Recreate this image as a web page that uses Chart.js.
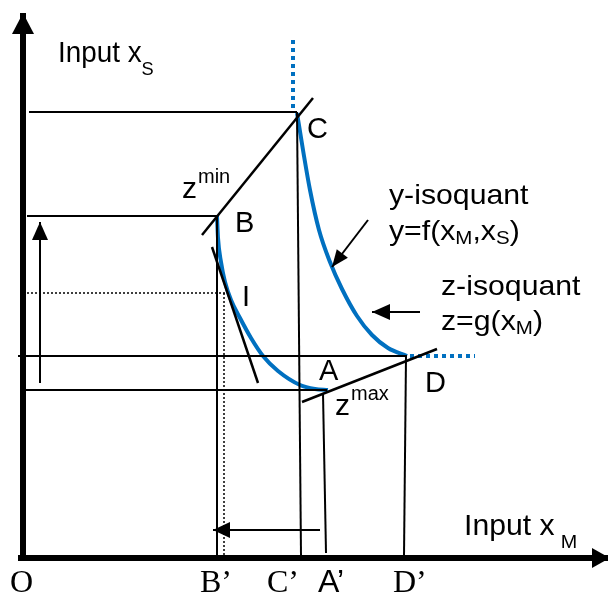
<!DOCTYPE html>
<html>
<head>
<meta charset="utf-8">
<script src="https://cdn.jsdelivr.net/npm/chart.js@4"></script>
<style>
  html, body { margin: 0; padding: 0; background: #fff; }
  canvas { display: block; }
</style>
</head>
<body>
<canvas id="myChart" width="608" height="594"></canvas>
<script>
// ==========================================
// Data (input xM along x, input xS along y)
// ==========================================

// upper blue isoquant, from C down to D
const upperXM = [274, 280, 287, 296, 307, 319, 334, 349, 365, 384];
const upperXS = [445, 408, 368, 328, 296, 269, 242, 223, 210, 202];

// lower blue isoquant, from B down to A
const lowerXM = [194, 195, 198, 202, 208, 217, 228, 240, 255, 277, 292, 305];
const lowerXS = [342, 320, 296, 276, 258, 240, 220, 202, 187, 173, 169, 168];

// dotted continuations of the upper isoquant
const dotUpXM = [270, 270];
const dotUpXS = [518, 450];
const dotRightXM = [387, 452];
const dotRightXS = [202, 202];

// z lines through the points
const zMinXM = [179, 290];
const zMinXS = [323, 460];
const zMaxXM = [279, 414];
const zMaxXS = [156, 209];
const tangentXM = [189, 235];
const tangentXS = [311, 175];

// named points B, C, A, D
const pointNames = ["B", "C", "A", "D"];
const pointXM = [194, 274, 304, 384];
const pointXS = [342, 446, 168, 202];

// guide lines: [xM1, xS1, xM2, xS2]
const guideLines = [
   [6, 446, 274, 446],     // C level
   [4, 342, 194, 342],     // B level
   [-5, 202, 384, 202],    // D level
   [2, 168, 304, 168],     // A level
   [194, 342, 194, 2],     // B'
   [274, 446, 278, 2],     // C'
   [300, 165, 303, 5],     // A'
   [383, 202, 381, 2]      // D'
];
const dottedLines = [
   [4, 265, 202, 265],
   [201, 265, 201, 2]
];

// arrows: [tail xM, tail xS, tip xM, tip xS]
const arrows = [
   [17, 175, 17, 336],
   [297, 28, 190, 28],
   [345, 338, 309, 291],
   [397, 246, 349, 246]
];

// axes
const axisY = [[0, 2], [0, 545]];
const axisX = [[-5, 0], [585, 0]];

// bottom tick labels and where they sit
const tickLabels = ["O", "B\u2019", "C\u2019", "A\u2019", "D\u2019"];
const tickXM = [-13, 177, 244, 295, 370];

// ==========================================
// Chart
// ==========================================
const blue = "#0070C0";
const sans = "'Liberation Sans', Arial, sans-serif";
const serif = "'Liberation Serif', 'Times New Roman', serif";

function toPoints(xs, ys) {
   return xs.map((x, i) => ({ x: x, y: ys[i] }));
}

function lineSet(points, color, width, dash, smooth) {
   let ds = {
      data: points,
      showLine: true,
      borderColor: color,
      borderWidth: width,
      borderDash: dash || [],
      borderCapStyle: "butt",
      pointRadius: 0,
      fill: false,
      clip: false
   };
   if (smooth) ds.cubicInterpolationMode = "monotone";
   return ds;
}

let datasets = [];
guideLines.forEach((g) => {
   datasets.push(lineSet([{ x: g[0], y: g[1] }, { x: g[2], y: g[3] }], "#000", 2));
});
dottedLines.forEach((g) => {
   datasets.push(lineSet([{ x: g[0], y: g[1] }, { x: g[2], y: g[3] }], "#000", 1.5, [2, 2]));
});
arrows.forEach((a) => {
   datasets.push(lineSet([{ x: a[0], y: a[1] }, { x: a[2], y: a[3] }], "#000", 2));
});
datasets.push(lineSet(toPoints(zMinXM, zMinXS), "#000", 2.5));
datasets.push(lineSet(toPoints(zMaxXM, zMaxXS), "#000", 2.5));
datasets.push(lineSet(toPoints(tangentXM, tangentXS), "#000", 2.5));
datasets.push(lineSet(toPoints(upperXM, upperXS), blue, 4, [], true));
datasets.push(lineSet(toPoints(lowerXM, lowerXS), blue, 4, [], true));
datasets.push(lineSet(toPoints(dotUpXM, dotUpXS), blue, 4, [4, 4]));
datasets.push(lineSet(toPoints(dotRightXM, dotRightXS), blue, 4, [4, 4]));
datasets.push(lineSet(axisY.map((p) => ({ x: p[0], y: p[1] })), "#000", 6));
datasets.push(lineSet(axisX.map((p) => ({ x: p[0], y: p[1] })), "#000", 6));

function headAt(ctx, x1, y1, x2, y2, len, half) {
   const a = Math.atan2(y2 - y1, x2 - x1);
   ctx.beginPath();
   ctx.moveTo(x2, y2);
   ctx.lineTo(x2 - len * Math.cos(a) + half * Math.sin(a), y2 - len * Math.sin(a) - half * Math.cos(a));
   ctx.lineTo(x2 - len * Math.cos(a) - half * Math.sin(a), y2 - len * Math.sin(a) + half * Math.cos(a));
   ctx.closePath();
   ctx.fill();
}

// text runs: [text, size, dy, dx]; wide stretches the run sideways
function rich(ctx, runs, x, y, family, wide) {
   wide = wide || 1;
   ctx.save();
   ctx.translate(x, y);
   ctx.scale(wide, 1);
   let cx = 0;
   runs.forEach((r) => {
      ctx.font = r[1] + "px " + (family || sans);
      cx += r[3] || 0;
      ctx.fillText(r[0], cx, r[2] || 0);
      cx += ctx.measureText(r[0]).width;
   });
   ctx.restore();
}

const decorations = {
   id: "decorations",
   afterDatasetsDraw(chart) {
      const ctx = chart.ctx;
      const sx = (v) => chart.scales.x.getPixelForValue(v);
      const sy = (v) => chart.scales.y.getPixelForValue(v);
      ctx.save();
      ctx.fillStyle = "#000";
      // arrow heads
      headAt(ctx, sx(axisY[0][0]), sy(axisY[0][1]), sx(axisY[1][0]), sy(axisY[1][1]), 21, 11);
      headAt(ctx, sx(axisX[0][0]), sy(axisX[0][1]), sx(axisX[1][0]) + 2, sy(axisX[1][1]), 18, 10);
      const heads = [[18, 8], [17, 8], [17, 7], [18, 8]];
      arrows.forEach((a, i) => {
         headAt(ctx, sx(a[0]), sy(a[1]), sx(a[2]), sy(a[3]), heads[i][0], heads[i][1]);
      });

      ctx.textBaseline = "alphabetic";
      ctx.textAlign = "left";
      // axis titles
      rich(ctx, [["Input x", 29], ["S", 19, 13]], 58, 62, sans, 0.96);
      rich(ctx, [["Input x", 29], ["M", 19, 13, 6]], 464, 535, sans, 1.04);

      // point labels, offset from their points
      const pOff = [[18, 16], [10, 26], [-8, -10], [18, 36]];
      pointNames.forEach((n, i) => {
         rich(ctx, [[n, 29]], sx(pointXM[i]) + pOff[i][0], sy(pointXS[i]) + pOff[i][1]);
      });
      rich(ctx, [["I", 29]], 242, 306);
      rich(ctx, [["z", 30], ["min", 20, -15, 1]], 182, 198);
      rich(ctx, [["z", 30], ["max", 20, -15, 1]], 335, 415);

      // curve labels
      rich(ctx, [["y-isoquant", 28]], 389, 204, sans, 1.08);
      rich(ctx, [["y=f(x", 28], ["M", 19, 4], [",x", 28], ["S", 19, 4], [")", 28]], 389, 240, sans, 1.08);
      rich(ctx, [["z-isoquant", 28]], 441, 295, sans, 1.08);
      rich(ctx, [["z=g(x", 28], ["M", 19, 4], [")", 28]], 441, 330, sans, 1.08);

      // tick labels on the xM axis
      tickLabels.forEach((t, i) => {
         rich(ctx, [[t, 32]], sx(tickXM[i]), 592, t.charAt(0) == "A" ? sans : serif);
      });
      ctx.restore();
   }
};

let chart = new Chart(document.getElementById("myChart"), {
   type: "scatter",
   data: { datasets: datasets },
   options: {
      responsive: false,
      animation: false,
      events: [],
      layout: { padding: 0 },
      plugins: { legend: { display: false }, tooltip: { enabled: false } },
      scales: {
         x: { type: "linear", min: -23, max: 585, display: false },
         y: { type: "linear", min: -36, max: 558, display: false }
      }
   },
   plugins: [decorations]
});
</script>
</body>
</html>
